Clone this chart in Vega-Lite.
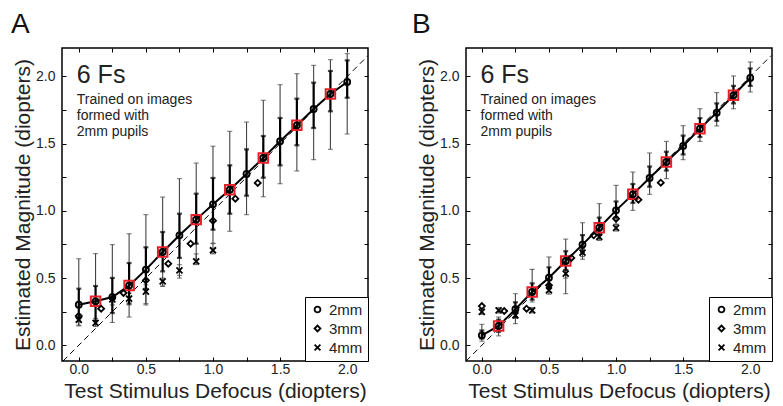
{
  "$schema": "https://vega.github.io/schema/vega-lite/v6.json",
  "padding": {"left": 10, "top": 9, "right": 2, "bottom": 0},
  "bounds": "flush",
  "spacing": 98,
  "datasets": {
    "diag": [{"x": -0.117, "y": -0.117}, {"x": 2.155, "y": 2.155}],
    "one": [{"k": 1}],
    "pts": [
      {"panel": "A", "series": "2mm", "x": 0, "y": 0.302, "lo": 0.144, "hi": 0.644, "lo2": 0.2, "hi2": 0.421, "train": 0},
      {"panel": "A", "series": "2mm", "x": 0.125, "y": 0.327, "lo": 0.153, "hi": 0.682, "lo2": 0.18, "hi2": 0.441, "train": 1},
      {"panel": "A", "series": "2mm", "x": 0.25, "y": 0.359, "lo": 0.17, "hi": 0.749, "lo2": 0.24, "hi2": 0.501, "train": 0},
      {"panel": "A", "series": "2mm", "x": 0.375, "y": 0.444, "lo": 0.21, "hi": 0.83, "lo2": 0.31, "hi2": 0.612, "train": 1},
      {"panel": "A", "series": "2mm", "x": 0.5, "y": 0.563, "lo": 0.3, "hi": 0.972, "lo2": 0.42, "hi2": 0.729, "train": 0},
      {"panel": "A", "series": "2mm", "x": 0.625, "y": 0.694, "lo": 0.44, "hi": 1.103, "lo2": 0.55, "hi2": 0.843, "train": 1},
      {"panel": "A", "series": "2mm", "x": 0.75, "y": 0.818, "lo": 0.5, "hi": 1.24, "lo2": 0.65, "hi2": 0.979, "train": 0},
      {"panel": "A", "series": "2mm", "x": 0.875, "y": 0.935, "lo": 0.64, "hi": 1.356, "lo2": 0.756, "hi2": 1.128, "train": 1},
      {"panel": "A", "series": "2mm", "x": 1.0, "y": 1.049, "lo": 0.756, "hi": 1.481, "lo2": 0.86, "hi2": 1.245, "train": 0},
      {"panel": "A", "series": "2mm", "x": 1.125, "y": 1.158, "lo": 0.848, "hi": 1.592, "lo2": 0.979, "hi2": 1.339, "train": 1},
      {"panel": "A", "series": "2mm", "x": 1.25, "y": 1.275, "lo": 0.972, "hi": 1.661, "lo2": 1.113, "hi2": 1.458, "train": 0},
      {"panel": "A", "series": "2mm", "x": 1.375, "y": 1.394, "lo": 1.105, "hi": 1.823, "lo2": 1.247, "hi2": 1.557, "train": 1},
      {"panel": "A", "series": "2mm", "x": 1.5, "y": 1.518, "lo": 1.202, "hi": 1.939, "lo2": 1.339, "hi2": 1.691, "train": 0},
      {"panel": "A", "series": "2mm", "x": 1.625, "y": 1.637, "lo": 1.297, "hi": 2.021, "lo2": 1.488, "hi2": 1.835, "train": 1},
      {"panel": "A", "series": "2mm", "x": 1.75, "y": 1.758, "lo": 1.381, "hi": 2.083, "lo2": 1.617, "hi2": 1.954, "train": 0},
      {"panel": "A", "series": "2mm", "x": 1.875, "y": 1.87, "lo": 1.458, "hi": 2.125, "lo2": 1.741, "hi2": 2.041, "train": 1},
      {"panel": "A", "series": "2mm", "x": 2.0, "y": 1.959, "lo": 1.572, "hi": 2.17, "lo2": 1.842, "hi2": 2.12, "train": 0},
      {"panel": "A", "series": "3mm", "x": 0, "y": 0.218},
      {"panel": "A", "series": "3mm", "x": 0.1667, "y": 0.272},
      {"panel": "A", "series": "3mm", "x": 0.3333, "y": 0.389},
      {"panel": "A", "series": "3mm", "x": 0.5, "y": 0.483},
      {"panel": "A", "series": "3mm", "x": 0.6667, "y": 0.607},
      {"panel": "A", "series": "3mm", "x": 0.8333, "y": 0.756},
      {"panel": "A", "series": "3mm", "x": 1.0, "y": 0.927},
      {"panel": "A", "series": "3mm", "x": 1.1667, "y": 1.091},
      {"panel": "A", "series": "3mm", "x": 1.3333, "y": 1.208},
      {"panel": "A", "series": "4mm", "x": 0, "y": 0.19, "lo": 0.15, "hi": 0.23},
      {"panel": "A", "series": "4mm", "x": 0.125, "y": 0.166, "lo": 0.14, "hi": 0.2},
      {"panel": "A", "series": "4mm", "x": 0.25, "y": 0.342, "lo": 0.3, "hi": 0.38},
      {"panel": "A", "series": "4mm", "x": 0.375, "y": 0.347, "lo": 0.3, "hi": 0.39},
      {"panel": "A", "series": "4mm", "x": 0.5, "y": 0.4, "lo": 0.31, "hi": 0.45},
      {"panel": "A", "series": "4mm", "x": 0.625, "y": 0.476, "lo": 0.44, "hi": 0.5},
      {"panel": "A", "series": "4mm", "x": 0.75, "y": 0.558, "lo": 0.52, "hi": 0.6},
      {"panel": "A", "series": "4mm", "x": 0.875, "y": 0.625, "lo": 0.6, "hi": 0.68},
      {"panel": "A", "series": "4mm", "x": 1.0, "y": 0.707, "lo": 0.68, "hi": 0.76},
      {"panel": "B", "series": "2mm", "x": 0, "y": 0.074, "lo": 0.03, "hi": 0.156, "lo2": 0.05, "hi2": 0.11, "train": 0},
      {"panel": "B", "series": "2mm", "x": 0.125, "y": 0.144, "lo": 0.07, "hi": 0.21, "lo2": 0.1, "hi2": 0.19, "train": 1},
      {"panel": "B", "series": "2mm", "x": 0.25, "y": 0.268, "lo": 0.161, "hi": 0.384, "lo2": 0.21, "hi2": 0.32, "train": 0},
      {"panel": "B", "series": "2mm", "x": 0.375, "y": 0.397, "lo": 0.322, "hi": 0.565, "lo2": 0.34, "hi2": 0.46, "train": 1},
      {"panel": "B", "series": "2mm", "x": 0.5, "y": 0.503, "lo": 0.4, "hi": 0.657, "lo2": 0.44, "hi2": 0.58, "train": 0},
      {"panel": "B", "series": "2mm", "x": 0.625, "y": 0.627, "lo": 0.384, "hi": 0.79, "lo2": 0.56, "hi2": 0.7, "train": 1},
      {"panel": "B", "series": "2mm", "x": 0.75, "y": 0.749, "lo": 0.64, "hi": 0.912, "lo2": 0.69, "hi2": 0.82, "train": 0},
      {"panel": "B", "series": "2mm", "x": 0.875, "y": 0.875, "lo": 0.79, "hi": 1.054, "lo2": 0.82, "hi2": 0.95, "train": 1},
      {"panel": "B", "series": "2mm", "x": 1.0, "y": 1.004, "lo": 0.9, "hi": 1.19, "lo2": 0.95, "hi2": 1.07, "train": 0},
      {"panel": "B", "series": "2mm", "x": 1.125, "y": 1.123, "lo": 1.004, "hi": 1.289, "lo2": 1.06, "hi2": 1.2, "train": 1},
      {"panel": "B", "series": "2mm", "x": 1.25, "y": 1.245, "lo": 1.123, "hi": 1.431, "lo2": 1.18, "hi2": 1.33, "train": 0},
      {"panel": "B", "series": "2mm", "x": 1.375, "y": 1.364, "lo": 1.24, "hi": 1.517, "lo2": 1.3, "hi2": 1.44, "train": 1},
      {"panel": "B", "series": "2mm", "x": 1.5, "y": 1.483, "lo": 1.381, "hi": 1.634, "lo2": 1.42, "hi2": 1.56, "train": 0},
      {"panel": "B", "series": "2mm", "x": 1.625, "y": 1.612, "lo": 1.517, "hi": 1.76, "lo2": 1.55, "hi2": 1.69, "train": 1},
      {"panel": "B", "series": "2mm", "x": 1.75, "y": 1.731, "lo": 1.632, "hi": 1.88, "lo2": 1.67, "hi2": 1.8, "train": 0},
      {"panel": "B", "series": "2mm", "x": 1.875, "y": 1.86, "lo": 1.76, "hi": 2.004, "lo2": 1.8, "hi2": 1.93, "train": 1},
      {"panel": "B", "series": "2mm", "x": 2.0, "y": 1.989, "lo": 1.885, "hi": 2.108, "lo2": 1.93, "hi2": 2.06, "train": 0},
      {"panel": "B", "series": "3mm", "x": 0, "y": 0.292},
      {"panel": "B", "series": "3mm", "x": 0.1667, "y": 0.255},
      {"panel": "B", "series": "3mm", "x": 0.3333, "y": 0.272},
      {"panel": "B", "series": "3mm", "x": 0.5, "y": 0.446},
      {"panel": "B", "series": "3mm", "x": 0.6667, "y": 0.65},
      {"panel": "B", "series": "3mm", "x": 0.8333, "y": 0.818},
      {"panel": "B", "series": "3mm", "x": 1.0, "y": 0.942},
      {"panel": "B", "series": "3mm", "x": 1.1667, "y": 1.083},
      {"panel": "B", "series": "3mm", "x": 1.3333, "y": 1.21},
      {"panel": "B", "series": "4mm", "x": 0, "y": 0.248, "lo": 0.23, "hi": 0.27},
      {"panel": "B", "series": "4mm", "x": 0.125, "y": 0.26, "lo": 0.24, "hi": 0.28},
      {"panel": "B", "series": "4mm", "x": 0.25, "y": 0.223, "lo": 0.2, "hi": 0.25},
      {"panel": "B", "series": "4mm", "x": 0.375, "y": 0.26, "lo": 0.24, "hi": 0.28},
      {"panel": "B", "series": "4mm", "x": 0.5, "y": 0.409, "lo": 0.38, "hi": 0.44},
      {"panel": "B", "series": "4mm", "x": 0.625, "y": 0.533, "lo": 0.5, "hi": 0.56},
      {"panel": "B", "series": "4mm", "x": 0.75, "y": 0.689, "lo": 0.66, "hi": 0.72},
      {"panel": "B", "series": "4mm", "x": 0.875, "y": 0.806, "lo": 0.78, "hi": 0.83},
      {"panel": "B", "series": "4mm", "x": 1.0, "y": 0.873, "lo": 0.85, "hi": 0.9}
    ]
  },
  "hconcat": [
    {
      "width": 306, "height": 313,
      "title": {"text": "A", "anchor": "start", "frame": "group", "dx": -51, "offset": -13, "baseline": "alphabetic", "fontSize": 28, "fontWeight": "normal", "color": "#111"},
      "layer": [
        {"data": {"name": "diag"}, "mark": {"type": "line", "strokeDash": [6, 4], "color": "black", "strokeWidth": 1},
         "encoding": {
           "x": {"field": "x", "type": "quantitative", "scale": {"domain": [-0.125, 2.155], "nice": false, "zero": false},
                 "axis": {"orient": "bottom", "values": [0, 0.25, 0.5, 0.75, 1, 1.25, 1.5, 1.75, 2], "labelExpr": "datum.value * 2 == round(datum.value * 2) ? format(datum.value, '.1f') : ''", "title": "Test Stimulus Defocus (diopters)", "labelPadding": 5, "titlePadding": 4}},
           "y": {"field": "y", "type": "quantitative", "scale": {"domain": [-0.117, 2.212], "nice": false, "zero": false},
                 "axis": {"orient": "left", "values": [0, 0.25, 0.5, 0.75, 1, 1.25, 1.5, 1.75, 2], "labelExpr": "datum.value * 2 == round(datum.value * 2) ? format(datum.value, '.1f') : ''", "title": "Estimated Magnitude (diopters)", "labelPadding": 11, "titlePadding": 2}}
         }},
        {"data": {"name": "pts"}, "transform": [{"filter": "datum.panel == 'A' && isValid(datum.lo)"}],
         "mark": {"type": "errorbar", "color": "#444", "thickness": 1.1, "ticks": {"size": 5}},
         "encoding": {"x": {"field": "x", "type": "quantitative", "axis": null}, "y": {"field": "lo", "type": "quantitative", "axis": null}, "y2": {"field": "hi"}}},
        {"data": {"name": "pts"}, "transform": [{"filter": "datum.panel == 'A' && isValid(datum.lo2)"}],
         "mark": {"type": "errorbar", "color": "black", "thickness": 2.2, "ticks": {"size": 5}},
         "encoding": {"x": {"field": "x", "type": "quantitative", "axis": null}, "y": {"field": "lo2", "type": "quantitative", "axis": null}, "y2": {"field": "hi2"}}},
        {"data": {"name": "pts"}, "transform": [{"filter": "datum.panel == 'A' && datum.series == '2mm'"}],
         "mark": {"type": "line", "color": "black", "strokeWidth": 2},
         "encoding": {"x": {"field": "x", "type": "quantitative", "axis": null}, "y": {"field": "y", "type": "quantitative", "axis": null}}},
        {"data": {"name": "pts"}, "transform": [{"filter": "datum.panel == 'A' && datum.train == 1"}],
         "mark": {"type": "point", "shape": "square", "filled": false, "color": "#e8202a", "strokeWidth": 2, "size": 90, "opacity": 1},
         "encoding": {
           "x": {"field": "x", "type": "quantitative", "axis": {"orient": "top", "values": [0, 0.25, 0.5, 0.75, 1, 1.25, 1.5, 1.75, 2], "labels": false, "title": null}},
           "y": {"field": "y", "type": "quantitative", "axis": {"orient": "right", "values": [0, 0.25, 0.5, 0.75, 1, 1.25, 1.5, 1.75, 2], "labels": false, "title": null}}}},
        {"data": {"name": "pts"}, "transform": [{"filter": "datum.panel == 'A'"}],
         "mark": {"type": "point", "filled": false, "color": "black", "strokeWidth": 1.8, "size": 36, "opacity": 1},
         "encoding": {"x": {"field": "x", "type": "quantitative", "axis": null}, "y": {"field": "y", "type": "quantitative", "axis": null},
           "shape": {"field": "series", "type": "nominal", "scale": {"domain": ["2mm", "3mm", "4mm"], "range": ["circle", "diamond", "M-1,-1L1,1M1,-1L-1,1"]}, "legend": {"title": null}}}},
        {"data": {"name": "one"}, "mark": {"type": "text", "text": "6 Fs", "align": "left", "baseline": "alphabetic", "fontSize": 25, "color": "#222"},
         "encoding": {"x": {"datum": -0.015, "type": "quantitative", "axis": null}, "y": {"datum": 1.954, "type": "quantitative", "axis": null}}},
        {"data": {"name": "one"}, "mark": {"type": "text", "text": ["Trained on images", "formed with", "2mm pupils"], "lineHeight": 16.2, "align": "left", "baseline": "alphabetic", "fontSize": 14, "color": "#222"},
         "encoding": {"x": {"datum": -0.015, "type": "quantitative", "axis": null}, "y": {"datum": 1.798, "type": "quantitative", "axis": null}}}
      ],
      "resolve": {"axis": {"x": "independent", "y": "independent"}}
    },
    {
      "width": 306, "height": 313,
      "title": {"text": "B", "anchor": "start", "frame": "group", "dx": -54, "offset": -13, "baseline": "alphabetic", "fontSize": 28, "fontWeight": "normal", "color": "#111"},
      "layer": [
        {"data": {"name": "diag"}, "mark": {"type": "line", "strokeDash": [6, 4], "color": "black", "strokeWidth": 1},
         "encoding": {
           "x": {"field": "x", "type": "quantitative", "scale": {"domain": [-0.118, 2.162], "nice": false, "zero": false},
                 "axis": {"orient": "bottom", "values": [0, 0.25, 0.5, 0.75, 1, 1.25, 1.5, 1.75, 2], "labelExpr": "datum.value * 2 == round(datum.value * 2) ? format(datum.value, '.1f') : ''", "title": "Test Stimulus Defocus (diopters)", "labelPadding": 5, "titlePadding": 4}},
           "y": {"field": "y", "type": "quantitative", "scale": {"domain": [-0.117, 2.212], "nice": false, "zero": false},
                 "axis": {"orient": "left", "values": [0, 0.25, 0.5, 0.75, 1, 1.25, 1.5, 1.75, 2], "labelExpr": "datum.value * 2 == round(datum.value * 2) ? format(datum.value, '.1f') : ''", "title": "Estimated Magnitude (diopters)", "labelPadding": 11, "titlePadding": 2}}
         }},
        {"data": {"name": "pts"}, "transform": [{"filter": "datum.panel == 'B' && isValid(datum.lo)"}],
         "mark": {"type": "errorbar", "color": "#444", "thickness": 1.1, "ticks": {"size": 5}},
         "encoding": {"x": {"field": "x", "type": "quantitative", "axis": null}, "y": {"field": "lo", "type": "quantitative", "axis": null}, "y2": {"field": "hi"}}},
        {"data": {"name": "pts"}, "transform": [{"filter": "datum.panel == 'B' && isValid(datum.lo2)"}],
         "mark": {"type": "errorbar", "color": "black", "thickness": 2.2, "ticks": {"size": 5}},
         "encoding": {"x": {"field": "x", "type": "quantitative", "axis": null}, "y": {"field": "lo2", "type": "quantitative", "axis": null}, "y2": {"field": "hi2"}}},
        {"data": {"name": "pts"}, "transform": [{"filter": "datum.panel == 'B' && datum.series == '2mm'"}],
         "mark": {"type": "line", "color": "black", "strokeWidth": 2},
         "encoding": {"x": {"field": "x", "type": "quantitative", "axis": null}, "y": {"field": "y", "type": "quantitative", "axis": null}}},
        {"data": {"name": "pts"}, "transform": [{"filter": "datum.panel == 'B' && datum.train == 1"}],
         "mark": {"type": "point", "shape": "square", "filled": false, "color": "#e8202a", "strokeWidth": 2, "size": 90, "opacity": 1},
         "encoding": {
           "x": {"field": "x", "type": "quantitative", "axis": {"orient": "top", "values": [0, 0.25, 0.5, 0.75, 1, 1.25, 1.5, 1.75, 2], "labels": false, "title": null}},
           "y": {"field": "y", "type": "quantitative", "axis": {"orient": "right", "values": [0, 0.25, 0.5, 0.75, 1, 1.25, 1.5, 1.75, 2], "labels": false, "title": null}}}},
        {"data": {"name": "pts"}, "transform": [{"filter": "datum.panel == 'B'"}],
         "mark": {"type": "point", "filled": false, "color": "black", "strokeWidth": 1.8, "size": 36, "opacity": 1},
         "encoding": {"x": {"field": "x", "type": "quantitative", "axis": null}, "y": {"field": "y", "type": "quantitative", "axis": null},
           "shape": {"field": "series", "type": "nominal", "scale": {"domain": ["2mm", "3mm", "4mm"], "range": ["circle", "diamond", "M-1,-1L1,1M1,-1L-1,1"]}, "legend": {"title": null}}}},
        {"data": {"name": "one"}, "mark": {"type": "text", "text": "6 Fs", "align": "left", "baseline": "alphabetic", "fontSize": 25, "color": "#222"},
         "encoding": {"x": {"datum": -0.01, "type": "quantitative", "axis": null}, "y": {"datum": 1.954, "type": "quantitative", "axis": null}}},
        {"data": {"name": "one"}, "mark": {"type": "text", "text": ["Trained on images", "formed with", "2mm pupils"], "lineHeight": 16.2, "align": "left", "baseline": "alphabetic", "fontSize": 14, "color": "#222"},
         "encoding": {"x": {"datum": -0.01, "type": "quantitative", "axis": null}, "y": {"datum": 1.798, "type": "quantitative", "axis": null}}}
      ],
      "resolve": {"axis": {"x": "independent", "y": "independent"}}
    }
  ],
  "resolve": {"scale": {"shape": "independent"}, "legend": {"shape": "independent"}},
  "config": {
    "font": "Liberation Sans",
    "view": {"stroke": "black", "strokeWidth": 1.5},
    "axis": {"grid": false, "domain": false, "tickColor": "black", "tickSize": -4, "tickWidth": 1, "labelFontSize": 14, "labelColor": "#222", "labelFlush": false, "labelOverlap": false, "titleFontSize": 21, "titleFontWeight": "normal", "titleColor": "#222", "minExtent": 0},
    "legend": {"orient": "bottom-right", "offset": 0, "padding": 5, "strokeColor": "black", "fillColor": "white", "labelFontSize": 15, "labelColor": "#222", "symbolStrokeWidth": 1.8, "symbolSize": 34, "rowPadding": 3, "labelOffset": 4, "cornerRadius": 0}
  }
}
